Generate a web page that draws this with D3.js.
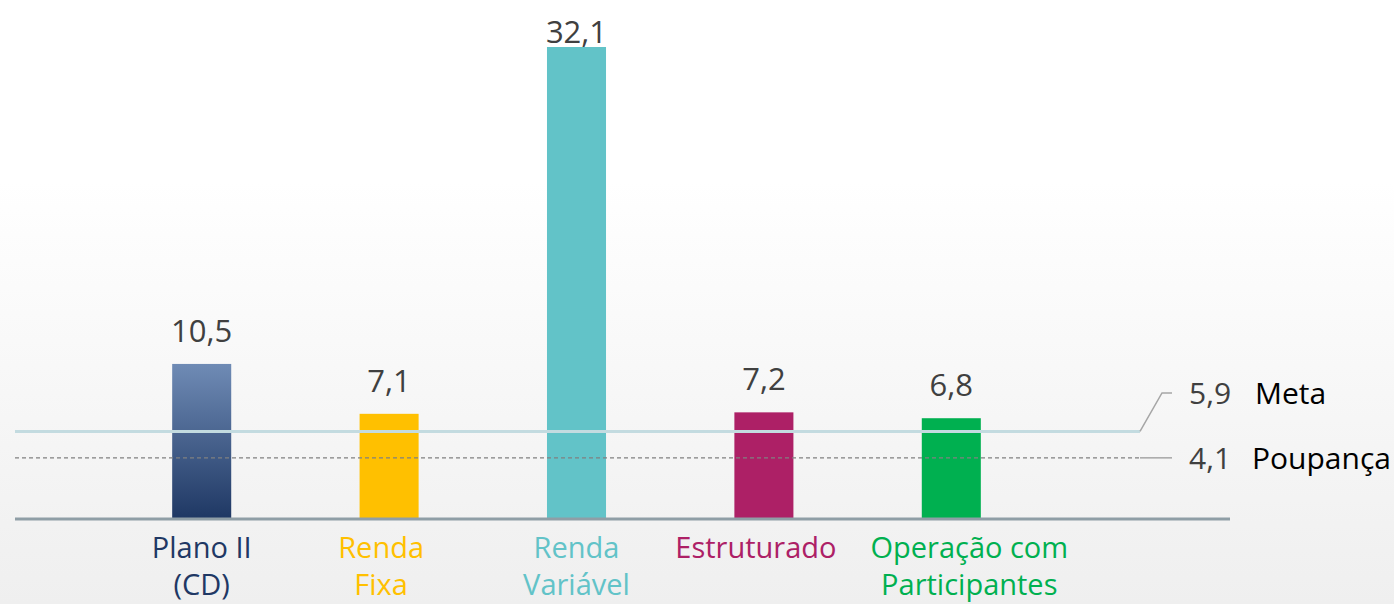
<!DOCTYPE html>
<html>
<head>
<meta charset="utf-8">
<script src="https://cdn.jsdelivr.net/npm/d3@7"></script>
<style>
  html, body { margin: 0; padding: 0; }
  body { width: 1394px; height: 604px; overflow: hidden; font-family: "Open Sans", sans-serif; }
</style>
</head>
<body>
<div id="chart"></div>
<script>
// Data
const categories = ['Plano II (CD)', 'Renda Fixa', 'Renda Variável', 'Estruturado', 'Operação com Participantes'];
const labelLines = [['Plano II', '(CD)'], ['Renda', 'Fixa'], ['Renda', 'Variável'], ['Estruturado'], ['Operação com', 'Participantes']];
const values = [10.5, 7.1, 32.1, 7.2, 6.8];
const barColors = ['#1f3864', '#ffc000', '#62c3c8', '#ad2066', '#00b050'];
const refNames = ['Meta', 'Poupança'];
const refValues = [5.9, 4.1];

const W = 1394, H = 604;
const baseY = 518;
const fmt = v => d3.format('.1f')(v).replace('.', ',');

// Category label nudges (text boxes in the original are not exactly centred)
const labelNudge = { 'Renda Fixa': -8, 'Estruturado': -8, 'Operação com Participantes': 18 };

const svg = d3.select('#chart').append('svg')
    .attr('width', W)
    .attr('height', H);

const defs = svg.append('defs');
const bg = defs.append('linearGradient').attr('id', 'bg').attr('x1', 0).attr('x2', 0).attr('y1', 0).attr('y2', 1);
bg.append('stop').attr('offset', '0%').attr('stop-color', '#ffffff');
bg.append('stop').attr('offset', '30%').attr('stop-color', '#ffffff');
bg.append('stop').attr('offset', '100%').attr('stop-color', '#efefef');

const blueGrad = defs.append('linearGradient').attr('id', 'blueGrad').attr('x1', 0).attr('x2', 0).attr('y1', 0).attr('y2', 1);
blueGrad.append('stop').attr('offset', '0%').attr('stop-color', '#6f8bb5');
blueGrad.append('stop').attr('offset', '100%').attr('stop-color', '#1f3864');

svg.append('rect').attr('width', W).attr('height', H).attr('fill', 'url(#bg)');

// Scales
const x = d3.scaleBand()
    .domain(categories)
    .range([108, 1045])
    .paddingInner(0.685)
    .paddingOuter(0.3425);

const y = d3.scaleLinear()
    .domain([0, 32.1])
    .range([baseY, 47]);

// Bars
svg.selectAll('.bar')
    .data(values)
    .enter().append('rect')
    .attr('class', 'bar')
    .attr('x', (d, i) => x(categories[i]))
    .attr('width', x.bandwidth())
    .attr('y', d => y(d))
    .attr('height', d => baseY - y(d))
    .attr('fill', (d, i) => i === 0 ? 'url(#blueGrad)' : barColors[i]);

// Value labels
svg.selectAll('.val')
    .data(values)
    .enter().append('text')
    .attr('class', 'val')
    .attr('x', (d, i) => x(categories[i]) + x.bandwidth() / 2)
    .attr('y', d => Math.max(y(d) - 22, 43))
    .attr('text-anchor', 'middle')
    .attr('fill', '#404040')
    .style('font-size', '31px')
    .text(d => fmt(d));

// Reference lines
const lineStart = 15, lineEnd = 1140;
svg.append('line')
    .attr('x1', lineStart).attr('x2', lineEnd)
    .attr('y1', y(refValues[0])).attr('y2', y(refValues[0]))
    .attr('stroke', '#c3dbe0').attr('stroke-width', 3);
svg.append('line')
    .attr('x1', lineStart).attr('x2', lineEnd)
    .attr('y1', y(refValues[1])).attr('y2', y(refValues[1]))
    .attr('stroke', '#808080').attr('stroke-width', 1.2)
    .attr('stroke-dasharray', '4,3');

// Leader lines to labels
const leaderY = [393, y(refValues[1])];
refValues.forEach((v, i) => {
    const ly = leaderY[i];
    svg.append('path')
        .attr('d', `M${lineEnd},${y(v)} L${lineEnd + 22},${ly} L${lineEnd + 32},${ly}`)
        .attr('fill', 'none')
        .attr('stroke', '#a6a6a6')
        .attr('stroke-width', 1.5);
    svg.append('text')
        .attr('x', 1189).attr('y', ly + 11)
        .attr('fill', '#404040')
        .style('font-size', '30px')
        .text(fmt(v));
    svg.append('text')
        .attr('x', i === 0 ? 1255 : 1252).attr('y', ly + 11)
        .attr('fill', '#000')
        .style('font-size', '30px')
        .text(refNames[i]);
});

// X axis
const xAxis = svg.append('g')
    .attr('transform', `translate(0,${baseY})`)
    .call(d3.axisBottom(x).tickSize(0).tickFormat(''));
xAxis.select('.domain').remove();
xAxis.append('line')
    .attr('x1', 15).attr('x2', 1230)
    .attr('y1', 1).attr('y2', 1)
    .attr('stroke', '#8f9ea6').attr('stroke-width', 3);

xAxis.selectAll('.tick').each(function(d, i) {
    const dx = labelNudge[d] || 0;
    const t = d3.select(this).append('text')
        .attr('fill', barColors[i])
        .attr('text-anchor', 'middle')
        .style('font-size', '29px')
        .style('font-family', '"Open Sans", sans-serif');
    labelLines[i].forEach((ln, k) => {
        t.append('tspan').attr('x', dx).attr('y', 40 + k * 37).text(ln);
    });
});
</script>
</body>
</html>
